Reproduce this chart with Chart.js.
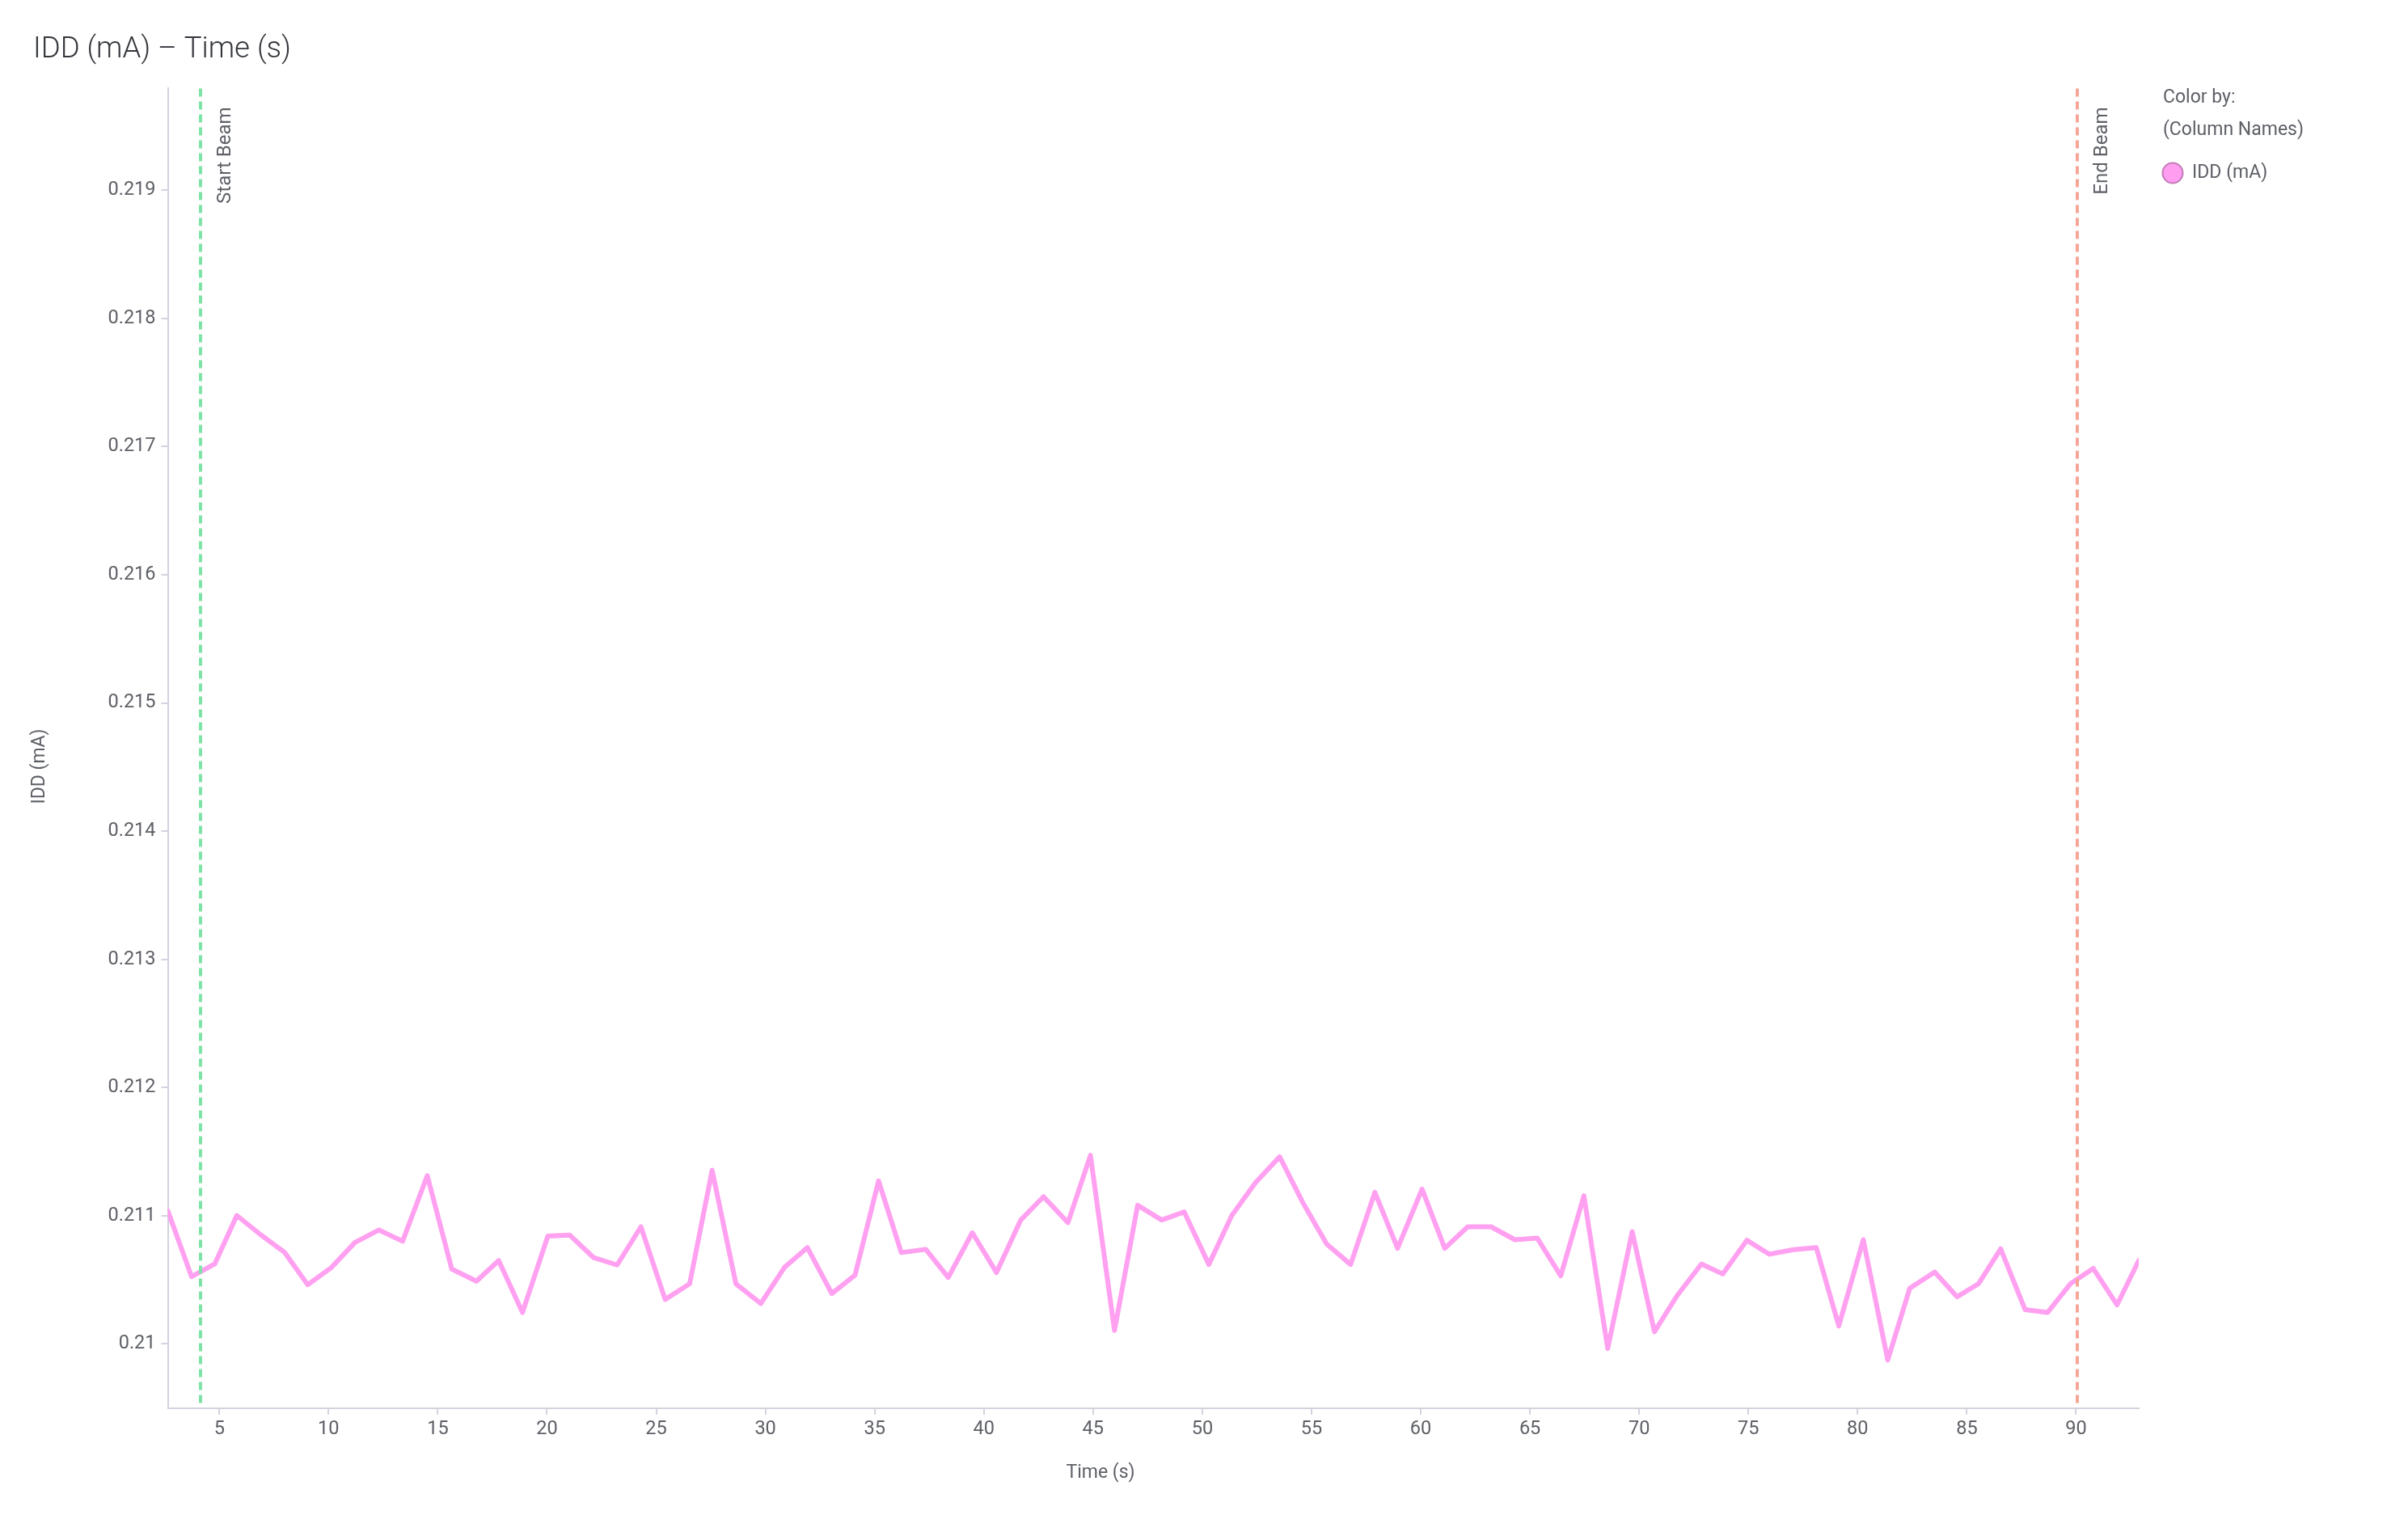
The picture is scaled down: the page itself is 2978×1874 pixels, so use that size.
<!DOCTYPE html>
<html>
<head>
<meta charset="utf-8">
<script src="https://cdn.jsdelivr.net/npm/chart.js@4/dist/chart.umd.min.js"></script>
<style>
  html, body { margin: 0; padding: 0; background: #ffffff; }
  #wrap { width: 2978px; height: 1874px; position: relative; }
  canvas { display: block; }
</style>
</head>
<body>
<div id="wrap"><canvas id="c" width="2978" height="1874"></canvas></div>
<script>
// ---- data ----
const times = [2.64, 3.73, 4.79, 5.80, 6.90, 7.99, 9.05, 10.12, 11.21, 12.31, 13.39, 14.52, 15.64, 16.77, 17.79, 18.88,
  20.04, 21.04, 22.14, 23.21, 24.30, 25.41, 26.53, 27.56, 28.65, 29.79, 30.88, 31.92, 33.04, 34.10, 35.18, 36.22,
  37.34, 38.37, 39.47, 40.58, 41.69, 42.73, 43.85, 44.88, 45.98, 47.04, 48.14, 49.17, 50.30, 51.35, 52.44, 53.54,
  54.59, 55.70, 56.79, 57.90, 58.94, 60.06, 61.10, 62.15, 63.22, 64.31, 65.33, 66.41, 67.47, 68.56, 69.68, 70.70,
  71.74, 72.85, 73.83, 74.93, 75.96, 77.07, 78.11, 79.14, 80.26, 81.38, 82.39, 83.53, 84.55, 85.53, 86.55, 87.67,
  88.70, 89.74, 90.79, 91.88, 92.87];
const idd = [0.21104, 0.210525, 0.210624, 0.211002, 0.210851, 0.210714, 0.210462, 0.210595, 0.210792, 0.210889,
  0.210801, 0.211313, 0.210584, 0.21049, 0.210651, 0.210246, 0.210841, 0.210849, 0.210673, 0.210616, 0.210914,
  0.210347, 0.210469, 0.211355, 0.210469, 0.210315, 0.210599, 0.210752, 0.210393, 0.210536, 0.211272, 0.210713,
  0.210738, 0.210519, 0.210868, 0.210557, 0.210967, 0.211149, 0.210946, 0.211471, 0.210105, 0.211082, 0.210967,
  0.21103, 0.21062, 0.211002, 0.211259, 0.21146, 0.211107, 0.210778, 0.21062, 0.211183, 0.210746, 0.211208,
  0.210746, 0.210914, 0.210914, 0.210813, 0.210826, 0.210532, 0.211156, 0.209964, 0.210876, 0.210095, 0.210378,
  0.210624, 0.210546, 0.210809, 0.2107, 0.210736, 0.210751, 0.210141, 0.210813, 0.209874, 0.210435, 0.210561,
  0.210368, 0.210469, 0.210742, 0.210267, 0.210246, 0.210469, 0.210589, 0.210305, 0.210651];
const xTicks = [5, 10, 15, 20, 25, 30, 35, 40, 45, 50, 55, 60, 65, 70, 75, 80, 85, 90];
const yTicks = [0.21, 0.211, 0.212, 0.213, 0.214, 0.215, 0.216, 0.217, 0.218, 0.219];
const xRange = [2.64, 92.87];
const yRange = [0.2095, 0.2198];
const markerTimes = [4.13, 90.07];
const markerLabels = ['Start Beam', 'End Beam'];
const markerColors = ['#7fe3a7', '#f7a597'];
const seriesName = 'IDD (mA)';
const chartTitle = 'IDD (mA) \u2013 Time (s)';
const xTitle = 'Time (s)';
const yTitle = 'IDD (mA)';
const legendHeader = ['Color by:', '(Column Names)'];

const FONT = 'Roboto, "Noto Sans", sans-serif';
const TEXT = '#5d6066';
const AXIS = '#d2d3de';
const LINE = '#ffa0f0';

const points = times.map((t, i) => ({ x: t, y: idd[i] }));

const decorPlugin = {
  id: 'decor',
  afterDatasetsDraw(chart) {
    const { ctx, chartArea, scales } = chart;
    ctx.save();
    markerTimes.forEach((t, i) => {
      const px = Math.round(scales.x.getPixelForValue(t));
      ctx.beginPath();
      ctx.setLineDash([10, 6]);
      ctx.lineWidth = 4;
      ctx.strokeStyle = markerColors[i];
      ctx.moveTo(px, chartArea.top + 1);
      ctx.lineTo(px, chartArea.bottom - 1);
      ctx.stroke();
      ctx.setLineDash([]);
      ctx.save();
      ctx.translate(px + 31, chartArea.top + 24);
      ctx.rotate(-Math.PI / 2);
      ctx.font = '24px ' + FONT;
      ctx.fillStyle = TEXT;
      ctx.textAlign = 'right';
      ctx.textBaseline = 'middle';
      ctx.fillText(markerLabels[i], 0, 0);
      ctx.restore();
    });
    ctx.restore();
  },
  afterDraw(chart) {
    const { ctx } = chart;
    ctx.save();
    ctx.font = '300 36.5px ' + FONT;
    ctx.fillStyle = '#33363b';
    ctx.textAlign = 'left';
    ctx.textBaseline = 'alphabetic';
    ctx.fillText(chartTitle, 41, 71);
    ctx.font = '23px ' + FONT;
    ctx.fillStyle = TEXT;
    ctx.textAlign = 'center';
    ctx.textBaseline = 'middle';
    ctx.fillText(xTitle, 1361, 1822);
    ctx.save();
    ctx.translate(49, 948);
    ctx.rotate(-Math.PI / 2);
    ctx.fillText(yTitle, 0, 0);
    ctx.restore();
    ctx.textAlign = 'left';
    ctx.textBaseline = 'alphabetic';
    ctx.font = '23px ' + FONT;
    ctx.fillText(legendHeader[0], 2675, 127);
    ctx.fillText(legendHeader[1], 2675, 167);
    ctx.beginPath();
    ctx.arc(2687, 214, 12.5, 0, Math.PI * 2);
    ctx.fillStyle = '#ff9ef0';
    ctx.fill();
    ctx.lineWidth = 2;
    ctx.strokeStyle = '#c47ab8';
    ctx.stroke();
    ctx.fillStyle = TEXT;
    ctx.textBaseline = 'middle';
    ctx.fillText(seriesName, 2711, 214);
    ctx.restore();
  }
};

new Chart(document.getElementById('c'), {
  type: 'line',
  data: {
    datasets: [{
      label: seriesName,
      data: points,
      borderColor: LINE,
      backgroundColor: LINE,
      borderWidth: 6,
      pointRadius: 0,
      pointHoverRadius: 0,
      tension: 0,
      fill: false,
      clip: 0,
      borderJoinStyle: 'round',
      borderCapStyle: 'round'
    }]
  },
  options: {
    responsive: false,
    devicePixelRatio: 1,
    animation: false,
    events: [],
    layout: { padding: { top: 108.5, right: 333, left: 0, bottom: 0 } },
    plugins: {
      legend: { display: false },
      title: { display: false },
      tooltip: { enabled: false }
    },
    scales: {
      x: {
        type: 'linear',
        min: xRange[0],
        max: xRange[1],
        afterFit(scale) { scale.height = 132.3; },
        afterBuildTicks(scale) { scale.ticks = xTicks.map(v => ({ value: v })); },
        grid: { display: true, drawOnChartArea: false, drawTicks: true, tickLength: 8, color: AXIS, lineWidth: 2 },
        border: { display: true, color: AXIS, width: 2 },
        ticks: {
          autoSkip: false,
          maxRotation: 0,
          padding: 4,
          color: TEXT,
          font: { family: FONT, size: 23.5 },
          callback: v => String(v)
        }
      },
      y: {
        type: 'linear',
        min: yRange[0],
        max: yRange[1],
        afterFit(scale) { scale.width = 207.5; },
        afterBuildTicks(scale) { scale.ticks = yTicks.map(v => ({ value: v })); },
        grid: { display: true, drawOnChartArea: false, drawTicks: true, tickLength: 8, color: AXIS, lineWidth: 2 },
        border: { display: true, color: AXIS, width: 2 },
        ticks: {
          autoSkip: false,
          padding: 7,
          color: TEXT,
          font: { family: FONT, size: 23.5 },
          callback: v => String(+Number(v).toFixed(3))
        }
      }
    }
  },
  plugins: [decorPlugin]
});
</script>
</body>
</html>
